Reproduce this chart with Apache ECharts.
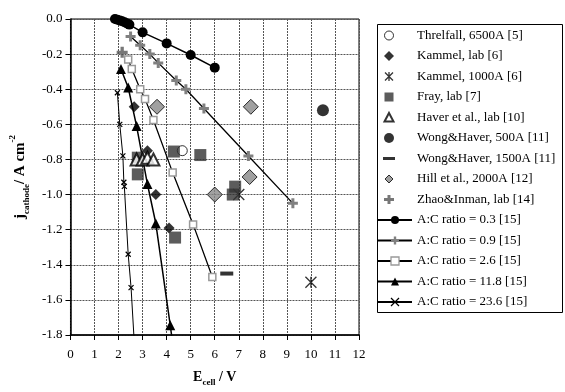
<!DOCTYPE html>
<html>
<head>
<meta charset="utf-8">
<script src="https://cdn.jsdelivr.net/npm/echarts@6/dist/echarts.min.js"></script>
<style>html,body{margin:0;padding:0;background:#fff}#c{width:565px;height:392px}</style>
</head>
<body>
<div id="c"></div>
<script>
// ---- data ----
var xTicks = [0,1,2,3,4,5,6,7,8,9,10,11,12];
var yTicks = [0,-0.2,-0.4,-0.6,-0.8,-1.0,-1.2,-1.4,-1.6,-1.8];
var threlfall = [[4.65,-0.75]];
var kammelLab = [[2.65,-0.5],[3.2,-0.75],[3.55,-1.0],[4.1,-1.19]];
var kammel1000 = [[7.0,-1.0],[10.0,-1.5]];
var frayLab = [[2.8,-0.79],[2.8,-0.885],[4.3,-0.755],[5.4,-0.775],[4.35,-1.245],[6.85,-0.955],[6.75,-1.0]];
var haverLab = [[2.75,-0.8],[3.0,-0.8],[3.2,-0.79],[3.45,-0.8]];
var wong500 = [[10.5,-0.52]];
var wong1500 = [[6.5,-1.45]];
var hill2000 = [[3.6,-0.5],[7.5,-0.5],[6.0,-1.0],[7.45,-0.9]];
var zhaoLab = [[2.15,-0.19]];
var ac03 = [[1.85,0],[1.95,-0.004],[2.05,-0.008],[2.15,-0.013],[2.25,-0.019],[2.35,-0.025],[2.45,-0.032],[3.0,-0.076],[4.0,-0.139],[5.0,-0.205],[6.0,-0.277]];
var ac09 = [[2.5,-0.1],[2.9,-0.15],[3.3,-0.2],[3.65,-0.25],[4.4,-0.35],[4.8,-0.4],[5.55,-0.51],[7.4,-0.78],[9.25,-1.05]];
var ac26 = [[2.4,-0.23],[2.55,-0.285],[2.9,-0.4],[3.1,-0.455],[3.45,-0.575],[4.25,-0.875],[5.1,-1.17],[5.9,-1.47]];
var ac118 = [[2.1,-0.285],[2.4,-0.39],[2.75,-0.61],[3.2,-0.94],[3.55,-1.165],[4.15,-1.745],[4.35,-1.95]];
var ac236 = [[1.95,-0.42],[2.05,-0.6],[2.18,-0.78],[2.22,-0.93],[2.24,-0.953],[2.4,-1.34],[2.52,-1.53],[2.7,-1.95]];
var names = ['Threlfall, 6500A [5]','Kammel, lab [6]','Kammel, 1000A [6]','Fray, lab [7]','Haver et al., lab [10]',
  'Wong&Haver, 500A [11]','Wong&Haver, 1500A [11]','Hill et al., 2000A [12]','Zhao&Inman, lab [14]',
  'A:C ratio = 0.3 [15]','A:C ratio = 0.9 [15]','A:C ratio = 2.6 [15]','A:C ratio = 11.8 [15]','A:C ratio = 23.6 [15]'];

// ---- styles ----
var SERIF = 'Liberation Serif';
var PLUS = 'path://M3.5,0H6.5V3.5H10V6.5H6.5V10H3.5V6.5H0V3.5H3.5Z';
var XMARK = 'path://M0,0L10,10M10,0L0,10';
var STAR = 'path://M0,0L10,10M10,0L0,10M5,0V10';
var PAD = 'path://M0,0M34,10';
var icons = {
  circle: PAD+'M15.5,5A4.5,4.5,0,1,1,6.5,5A4.5,4.5,0,1,1,15.5,5Z',
  bigcircle: PAD+'M16,5A5,5,0,1,1,6,5A5,5,0,1,1,16,5Z',
  diamond: PAD+'M11,0L16,5L11,10L6,5Z',
  smalldiamond: PAD+'M11,1L15,5L11,9L7,5Z',
  star: PAD+'M7,1L15,9M15,1L7,9M11,0.5V9.5',
  square: PAD+'M6.5,0.5H15.5V9.5H6.5Z',
  triangle: PAD+'M11,0.5L15.5,9H6.5Z',
  dash: PAD+'M5,3.5H17V6.5H5Z',
  plus: PAD+'M9.5,0.5H12.5V3.5H16V6.5H12.5V9.5H9.5V6.5H6V3.5H9.5Z'
};

function sc(name, data, symbol, size, style) {
  return {name:name, type:'scatter', data:data, symbol:symbol, symbolSize:size, itemStyle:style, z:3};
}
function ln(name, data, symbol, size, style, lw) {
  return {name:name, type:'line', data:data, symbol:symbol, symbolSize:size, showSymbol:true, itemStyle:style,
    lineStyle:{color:'#000', width:lw}, clip:true, z:3};
}

var series = [
  sc(names[0], threlfall, 'circle', 10, {color:'#fff', borderColor:'#000', borderWidth:1}),
  sc(names[1], kammelLab, 'diamond', 11, {color:'#000'}),
  sc(names[2], kammel1000, STAR, 11, {color:'transparent', borderColor:'#000', borderWidth:1.3}),
  sc(names[3], frayLab, 'rect', 12, {color:'#333'}),
  sc(names[4], haverLab, 'triangle', 12, {color:'#fff', borderColor:'#000', borderWidth:2}),
  sc(names[5], wong500, 'circle', 12, {color:'#000'}),
  sc(names[6], wong1500, 'rect', [13,4], {color:'#000'}),
  sc(names[7], hill2000, 'diamond', 15, {color:'#888', borderColor:'#000', borderWidth:1}),
  sc(names[8], zhaoLab, PLUS, 11, {color:'#555'}),
  ln(names[9], ac03, 'circle', 10, {color:'#000'}, 1.5),
  ln(names[10], ac09, PLUS, 10, {color:'#808080'}, 1.3),
  ln(names[11], ac26, 'rect', 7, {color:'#fff', borderColor:'#999', borderWidth:1.5}, 1.3),
  ln(names[12], ac118, 'triangle', 10, {color:'#000'}, 1.5),
  ln(names[13], ac236, XMARK, 5, {color:'transparent', borderColor:'#000', borderWidth:1.2}, 1)
];

var legendData = [
  {name:names[0], icon:icons.circle, itemStyle:{color:'#fff', borderColor:'#000', borderWidth:1}},
  {name:names[1], icon:icons.diamond, itemStyle:{color:'#000', borderWidth:0}},
  {name:names[2], icon:icons.star, itemStyle:{color:'transparent', borderColor:'#000', borderWidth:1.3}},
  {name:names[3], icon:icons.square, itemStyle:{color:'#333', borderWidth:0}},
  {name:names[4], icon:icons.triangle, itemStyle:{color:'#fff', borderColor:'#000', borderWidth:2}},
  {name:names[5], icon:icons.bigcircle, itemStyle:{color:'#000', borderWidth:0}},
  {name:names[6], icon:icons.dash, itemStyle:{color:'#000', borderWidth:0}},
  {name:names[7], icon:icons.smalldiamond, itemStyle:{color:'#888', borderColor:'#000', borderWidth:1}},
  {name:names[8], icon:icons.plus, itemStyle:{color:'#555', borderWidth:0}},
  {name:names[9], itemStyle:{color:'#000', borderWidth:0}},
  {name:names[10], itemStyle:{color:'#808080', borderWidth:0}},
  {name:names[11], itemStyle:{color:'#fff', borderColor:'#999', borderWidth:1.3}},
  {name:names[12], itemStyle:{color:'#000', borderWidth:0}},
  {name:names[13], itemStyle:{color:'transparent', borderColor:'#000', borderWidth:1.2}}
];

var chart = echarts.init(document.getElementById('c'), null, {renderer:'canvas'});
chart.setOption({
  animation:false,
  backgroundColor:'#fff',
  textStyle:{fontFamily:SERIF},
  grid:{left:70, top:19, right:206, bottom:56, show:true, borderColor:'#000', borderWidth:1, backgroundColor:'transparent'},
  graphic:[{type:'rect', shape:{x:377.5, y:24.5, width:185, height:288}, style:{fill:'none', stroke:'#000', lineWidth:1}, z:1}],
  legend:{
    orient:'vertical', left:377, top:29, padding:0, itemWidth:34, itemHeight:10, itemGap:7.5,
    textStyle:{fontFamily:SERIF, fontSize:13, color:'#000'},
    data:legendData, selectedMode:false
  },
  xAxis:{
    type:'value', min:xTicks[0], max:xTicks[xTicks.length-1], interval:1,
    name:'{b|E}{s|cell}{b| / V}', nameLocation:'middle', nameGap:33,
    nameTextStyle:{rich:{
      b:{fontFamily:SERIF, fontWeight:'bold', fontSize:14, color:'#000', lineHeight:16, verticalAlign:'bottom'},
      s:{fontFamily:SERIF, fontWeight:'bold', fontSize:9, color:'#000', lineHeight:10, verticalAlign:'bottom', padding:[0,0,-3,0]}
    }},
    axisLine:{show:true, onZero:false, lineStyle:{color:'#000', width:1.5}},
    axisTick:{show:true, length:5, lineStyle:{color:'#000'}},
    axisLabel:{fontFamily:SERIF, fontSize:13, color:'#000', margin:13},
    splitLine:{show:true, lineStyle:{color:'#555', type:[2,1], width:1}}
  },
  yAxis:{
    type:'value', min:yTicks[yTicks.length-1], max:yTicks[0], interval:0.2,
    name:'{b|j}{s|cathode}{b|/ A cm}{p|-2}', nameLocation:'middle', nameGap:32,
    nameTextStyle:{rich:{
      b:{fontFamily:SERIF, fontWeight:'bold', fontSize:15, color:'#000', lineHeight:17, verticalAlign:'bottom'},
      s:{fontFamily:SERIF, fontWeight:'bold', fontSize:9, color:'#000', lineHeight:10, verticalAlign:'bottom', padding:[0,0,-3,0]},
      p:{fontFamily:SERIF, fontWeight:'bold', fontSize:9, color:'#000', lineHeight:10, verticalAlign:'top', padding:[-3,0,0,0]}
    }},
    axisLine:{show:true, onZero:false, lineStyle:{color:'#000', width:1.5}},
    axisTick:{show:true, length:5, lineStyle:{color:'#000'}},
    axisLabel:{fontFamily:SERIF, fontSize:13, color:'#000', margin:8, formatter:function(v){return (Math.round(v*10)/10).toFixed(1);}},
    splitLine:{show:true, lineStyle:{color:'#555', type:[2,1], width:1}}
  },
  series:series
});
</script>
</body>
</html>
